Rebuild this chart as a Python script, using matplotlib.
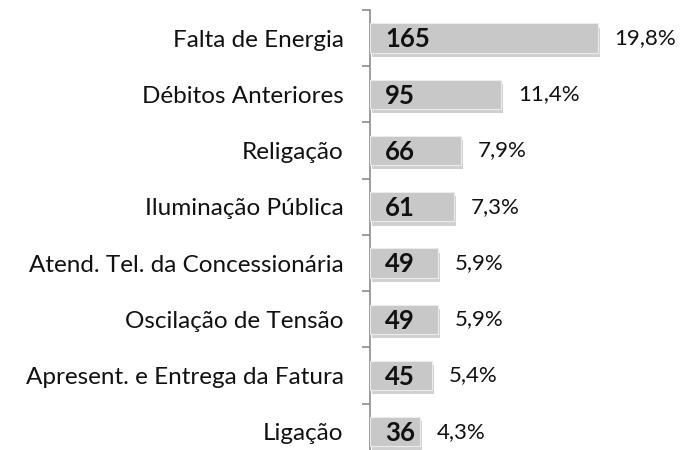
import matplotlib.pyplot as plt
import matplotlib.patheffects as pe
import numpy as np

categories = [
    "Falta de Energia",
    "Débitos Anteriores",
    "Religação",
    "Iluminação Pública",
    "Atend. Tel. da Concessionária",
    "Oscilação de Tensão",
    "Apresent. e Entrega da Fatura",
    "Ligação",
]
values = [165, 95, 66, 61, 49, 49, 45, 36]
percent_labels = ["19,8%", "11,4%", "7,9%", "7,3%", "5,9%", "5,9%", "5,4%", "4,3%"]

FONT = ["Lato", "DejaVu Sans"]

fig = plt.figure(figsize=(6.85, 4.5), dpi=100)
ax = fig.add_axes([0.540, -0.022, 0.444, 1.0])

y = np.arange(len(categories))
bars = ax.barh(y, values, height=0.52, color="#c8c8c8", edgecolor="#ebebeb",
               linewidth=0.8, zorder=3)
for b in bars:
    b.set_path_effects([
        pe.SimplePatchShadow(offset=(1.5, -3), shadow_rgbFace="#8a8a8a", alpha=0.4),
        pe.Normal(),
    ])

for yi, v, p in zip(y, values, percent_labels):
    ax.annotate(str(v), (0, yi), xytext=(11, -1), textcoords="offset points",
                ha="left", va="center", fontsize=18.5, fontweight="bold",
                family=FONT, color="#111111", zorder=4)
    ax.annotate(p, (v, yi), xytext=(12, 0), textcoords="offset points",
                ha="left", va="center", fontsize=16, family=FONT, color="#111111")

ax.set_ylim(len(categories) - 0.5, -0.5)
ax.set_xlim(0, 220)
ax.set_yticks(y)
ax.set_yticklabels(categories, fontsize=17.5, family=FONT, color="#111111")
ax.tick_params(axis="y", which="major", length=0, pad=19)
ax.set_yticks(np.arange(-0.5, len(categories)), minor=True)
ax.tick_params(axis="y", which="minor", length=6, color="#8c8c8c", width=1.2)
ax.set_xticks([])
for s in ["top", "right", "bottom"]:
    ax.spines[s].set_visible(False)
ax.spines["left"].set_color("#8c8c8c")
ax.spines["left"].set_linewidth(1.2)

fig.savefig("out.png", dpi=100)
